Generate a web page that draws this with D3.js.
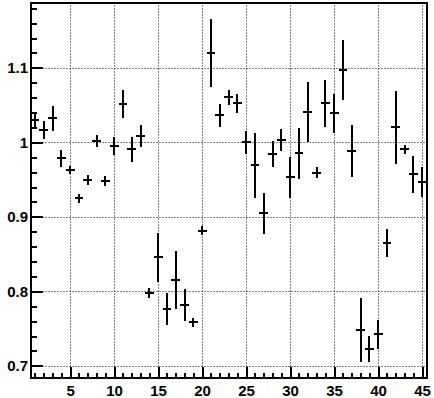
<!DOCTYPE html>
<html>
<head>
<meta charset="utf-8">
<script src="https://cdn.jsdelivr.net/npm/d3@7"></script>
<style>
  html, body { margin: 0; padding: 0; background: #ffffff; }
  svg { display: block; }
  .lbl text { font-family: "Liberation Sans", Arial, Helvetica, sans-serif; font-weight: bold; font-size: 15px; fill: #000; }
</style>
</head>
<body>
<script>
// ---- data ----
const bins = [1,2,3,4,5,6,7,8,9,10,11,12,13,14,15,16,17,18,19,20,21,22,23,24,25,26,27,28,29,30,31,32,33,34,35,36,37,38,39,40,41,42,43,44,45];
const values = [1.0299,1.0165,1.0322,0.9785,0.9624,0.9248,0.9499,1.0021,0.9481,0.9950,
                1.0514,0.9906,1.0085,0.7977,0.8456,0.7758,0.8149,0.7813,0.7585,0.8812,
                1.1199,1.0362,1.0604,1.0523,1.0000,0.9691,0.9047,0.9839,1.0031,0.9530,
                0.9852,1.0403,0.9592,1.0523,1.0389,1.0970,0.9883,0.7477,0.7221,0.7423,
                0.8648,1.0199,0.9906,0.9572,0.9467];
const errors = [0.0090,0.0125,0.0165,0.0117,0.0054,0.0058,0.0067,0.0078,0.0067,0.0123,
                0.0185,0.0168,0.0150,0.0067,0.0332,0.0213,0.0390,0.0212,0.0060,0.0060,
                0.0454,0.0152,0.0098,0.0125,0.0152,0.0440,0.0278,0.0175,0.0154,0.0275,
                0.0342,0.0403,0.0077,0.0313,0.0259,0.0407,0.0346,0.0430,0.0175,0.0192,
                0.0192,0.0490,0.0063,0.0248,0.0205];
const xTicks = [5,10,15,20,25,30,35,40,45];
const xTickLabels = ["5","10","15","20","25","30","35","40","45"];
const yTicks = [0.7,0.8,0.9,1.0,1.1];
const yTickLabels = ["0.7","0.8","0.9","1","1.1"];
const xDomain = [0.5, 45.5];
const yDomain = [0.6843, 1.1877];

// ---- layout ----
const W = 434, H = 398;
const L = 30.5, R = 426.5, T = 2.5, B = 377.5;
const LW = 2;

const svg = d3.select("body").append("svg").attr("width", W).attr("height", H);
svg.append("rect").attr("width", W).attr("height", H).attr("fill", "#fff");

const x = d3.scaleLinear().domain(xDomain).range([L, R]);
const y = d3.scaleLinear().domain(yDomain).range([B, T]);
const px = v => Math.round(x(v));
const py = v => Math.round(y(v));

// grid
const grid = svg.append("g").attr("stroke", "#000").attr("stroke-width", 1).attr("stroke-dasharray", "1,2");
grid.selectAll(".gx").data(xTicks).enter().append("line")
  .attr("x1", d => Math.round(x(d)) + 0.5).attr("x2", d => Math.round(x(d)) + 0.5)
  .attr("y1", T).attr("y2", B);
grid.selectAll(".gy").data(yTicks).enter().append("line")
  .attr("y1", d => Math.round(y(d)) + 0.5).attr("y2", d => Math.round(y(d)) + 0.5)
  .attr("x1", L).attr("x2", R);

// minor ticks
const xMinor = d3.range(1, 46, 1);
const yMinor = d3.range(0.70, 1.1877, 0.02);
svg.append("g").attr("transform", `translate(0,${B})`)
  .call(d3.axisBottom(x).tickValues(xMinor).tickSize(-5).tickFormat(""))
  .call(g => g.select(".domain").remove());
svg.append("g").attr("transform", `translate(${L},0)`)
  .call(d3.axisLeft(y).tickValues(yMinor).tickSize(-6).tickFormat(""))
  .call(g => g.select(".domain").remove());

// major ticks + labels
svg.append("g").attr("class", "lbl").attr("transform", `translate(0,${B})`)
  .call(d3.axisBottom(x).tickValues(xTicks).tickSize(-11).tickPadding(7.5)
        .tickFormat((d, i) => xTickLabels[i]))
  .call(g => g.select(".domain").remove())
  .call(g => g.selectAll("text").attr("y", 7.5));
svg.append("g").attr("class", "lbl").attr("transform", `translate(${L},0)`)
  .call(d3.axisLeft(y).tickValues(yTicks).tickSize(-12).tickPadding(2)
        .tickFormat((d, i) => yTickLabels[i]))
  .call(g => g.select(".domain").remove())
  .call(g => g.selectAll("text").attr("x", -2.5));

svg.selectAll(".tick line").attr("stroke", "#000").attr("stroke-width", LW).attr("shape-rendering", "crispEdges");
svg.selectAll(".lbl .tick text").attr("fill", "#000");

// frame
svg.append("rect").attr("x", Math.round(L)).attr("y", Math.round(T))
  .attr("width", Math.round(R) - Math.round(L)).attr("height", Math.round(B) - Math.round(T))
  .attr("fill", "none").attr("stroke", "#000").attr("stroke-width", LW).attr("shape-rendering", "crispEdges");

// data points with error bars
const pts = svg.append("g").attr("stroke", "#000").attr("stroke-width", LW).attr("shape-rendering", "crispEdges");
const rows = bins.map((b, i) => ({b, v: values[i], e: errors[i]}));
pts.selectAll(".h").data(rows).enter().append("line")
  .attr("x1", d => px(d.b - 0.5)).attr("x2", d => px(d.b + 0.5))
  .attr("y1", d => py(d.v)).attr("y2", d => py(d.v));
pts.selectAll(".v").data(rows).enter().append("line")
  .attr("x1", d => px(d.b)).attr("x2", d => px(d.b))
  .attr("y1", d => py(Math.max(d.v - d.e, yDomain[0]))).attr("y2", d => py(Math.min(d.v + d.e, yDomain[1])));
</script>
</body>
</html>
